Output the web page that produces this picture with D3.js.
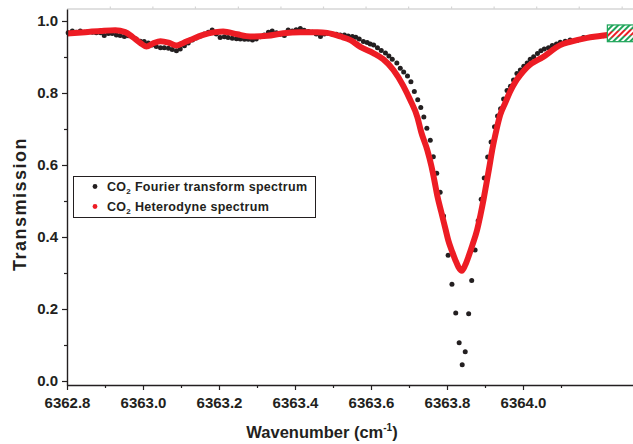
<!DOCTYPE html>
<html>
<head>
<meta charset="utf-8">
<script src="https://cdn.jsdelivr.net/npm/d3@7"></script>
<style>
  body { margin: 0; background: #fff; }
  text { font-family: "Liberation Sans", Arial, sans-serif; font-weight: bold; fill: #231f20; }
</style>
</head>
<body>
<div id="chart"></div>
<script>
// FTS spectrum (black dots)
var ftsWavenumber = [6362.803, 6362.814, 6362.824, 6362.835, 6362.846, 6362.856, 6362.867, 6362.877, 6362.888, 6362.898,
    6362.909, 6362.919, 6362.930, 6362.940, 6362.951, 6362.961, 6362.972, 6362.982, 6362.993, 6363.003,
    6363.014, 6363.024, 6363.035, 6363.046, 6363.056, 6363.067, 6363.077, 6363.088, 6363.098, 6363.109,
    6363.119, 6363.130, 6363.140, 6363.151, 6363.161, 6363.172, 6363.182, 6363.193, 6363.203, 6363.214,
    6363.224, 6363.235, 6363.246, 6363.256, 6363.267, 6363.277, 6363.288, 6363.298, 6363.309, 6363.319,
    6363.330, 6363.340, 6363.351, 6363.361, 6363.372, 6363.382, 6363.393, 6363.403, 6363.414, 6363.424,
    6363.435, 6363.446, 6363.456, 6363.467, 6363.477, 6363.488, 6363.498, 6363.509, 6363.519, 6363.530,
    6363.540, 6363.551, 6363.560, 6363.569, 6363.580, 6363.590, 6363.598, 6363.607, 6363.617, 6363.627,
    6363.638, 6363.647, 6363.656, 6363.668, 6363.677, 6363.686, 6363.696, 6363.705, 6363.714, 6363.723,
    6363.731, 6363.739, 6363.747, 6363.756, 6363.764, 6363.773, 6363.782, 6363.791, 6363.803, 6363.813,
    6363.823, 6363.832, 6363.840, 6363.848, 6363.857, 6363.865, 6363.874, 6363.882, 6363.890, 6363.898,
    6363.907, 6363.916, 6363.925, 6363.933, 6363.941, 6363.949, 6363.958, 6363.967, 6363.975, 6363.984,
    6363.993, 6364.002, 6364.011, 6364.019, 6364.028, 6364.038, 6364.047, 6364.056, 6364.067, 6364.077,
    6364.088, 6364.098, 6364.111, 6364.124, 6364.142, 6364.159, 6364.172, 6364.186, 6364.198, 6364.212,
    6364.224, 6364.238, 6364.251, 6364.264, 6364.277, 6364.288];
var ftsTransmission = [0.967, 0.972, 0.969, 0.972, 0.969, 0.971, 0.969, 0.967, 0.967, 0.960,
    0.965, 0.965, 0.961, 0.960, 0.957, 0.959, 0.956, 0.950, 0.944, 0.943,
    0.939, 0.933, 0.929, 0.926, 0.926, 0.924, 0.921, 0.917, 0.922, 0.931,
    0.939, 0.947, 0.953, 0.958, 0.964, 0.969, 0.975, 0.964, 0.954, 0.956,
    0.954, 0.952, 0.951, 0.950, 0.949, 0.949, 0.947, 0.950, 0.956, 0.961,
    0.969, 0.972, 0.967, 0.963, 0.960, 0.975, 0.972, 0.976, 0.979, 0.974,
    0.971, 0.969, 0.964, 0.957, 0.964, 0.965, 0.964, 0.963, 0.961, 0.961,
    0.958, 0.957, 0.955, 0.950, 0.943, 0.940, 0.936, 0.933, 0.926, 0.918,
    0.911, 0.903, 0.894, 0.883, 0.869, 0.858, 0.847, 0.831, 0.804, 0.781,
    0.760, 0.733, 0.702, 0.669, 0.623, 0.577, 0.524, 0.458, 0.349, 0.269,
    0.189, 0.106, 0.045, 0.081, 0.187, 0.279, 0.364, 0.445, 0.505, 0.564,
    0.622, 0.664, 0.706, 0.736, 0.756, 0.783, 0.807, 0.819, 0.836, 0.854,
    0.864, 0.874, 0.883, 0.894, 0.901, 0.910, 0.917, 0.922, 0.926, 0.932,
    0.936, 0.941, 0.944, 0.947, 0.946, 0.954, 0.954, 0.956, 0.957, 0.959,
    0.961, 0.963, 0.964, 0.965, 0.967, 0.967];

// heterodyne spectrum (red trace)
var hetWavenumber = [6362.800, 6362.848, 6362.888, 6362.927, 6362.953, 6362.972, 6362.993, 6363.009, 6363.027, 6363.046,
    6363.067, 6363.088, 6363.106, 6363.124, 6363.156, 6363.190, 6363.211, 6363.248, 6363.282, 6363.327,
    6363.369, 6363.414, 6363.459, 6363.485, 6363.519, 6363.546, 6363.572, 6363.606, 6363.632, 6363.659,
    6363.685, 6363.703, 6363.722, 6363.732, 6363.748, 6363.759, 6363.767, 6363.774, 6363.785, 6363.796,
    6363.803, 6363.814, 6363.822, 6363.830, 6363.839, 6363.848, 6363.856, 6363.867, 6363.879, 6363.888,
    6363.896, 6363.903, 6363.911, 6363.919, 6363.930, 6363.940, 6363.953, 6363.967, 6363.980, 6363.993,
    6364.011, 6364.053, 6364.098, 6364.124, 6364.169, 6364.222, 6364.290];
var hetTransmission = [0.965, 0.969, 0.972, 0.974, 0.969, 0.956, 0.939, 0.929, 0.938, 0.944,
    0.940, 0.932, 0.939, 0.947, 0.961, 0.969, 0.971, 0.963, 0.957, 0.959,
    0.966, 0.969, 0.969, 0.967, 0.957, 0.947, 0.928, 0.911, 0.894, 0.864,
    0.820, 0.781, 0.733, 0.692, 0.642, 0.597, 0.556, 0.517, 0.469, 0.422,
    0.392, 0.358, 0.336, 0.317, 0.306, 0.322, 0.344, 0.378, 0.419, 0.461,
    0.503, 0.544, 0.592, 0.642, 0.697, 0.739, 0.772, 0.806, 0.831, 0.850,
    0.872, 0.900, 0.933, 0.942, 0.953, 0.961, 0.969];

var xMajorTicks = [6362.8, 6363.0, 6363.2, 6363.4, 6363.6, 6363.8, 6364.0];
var xMinorTicks = [6362.9, 6363.1, 6363.3, 6363.5, 6363.7, 6363.9, 6364.1];
var yMajorTicks = [0.0, 0.2, 0.4, 0.6, 0.8, 1.0];
var yMinorTicks = [0.1, 0.3, 0.5, 0.7, 0.9];
// unlabelled light grey ticks on the top frame
var topTicks = [6362.914, 6363.026, 6363.138, 6363.251, 6363.363, 6363.475, 6363.587, 6363.699,
    6363.812, 6363.924, 6364.036, 6364.148, 6364.261];
var legendNames = ["Fourier transform spectrum", "Heterodyne spectrum"];
var legendColors = ["#231f20", "#ed1c24"];
// hatched marker box in the upper right (wavenumber / transmission corners)
var boxWavenumber = [6364.222, 6364.30];
var boxTransmission = [0.9425, 0.989];

var width = 633, height = 444;

var svg = d3.select("#chart").append("svg")
    .attr("width", width)
    .attr("height", height);

var x = d3.scaleLinear()
    .domain([6362.8, 6364.29])
    .range([67, 633.2]);

var y = d3.scaleLinear()
    .domain([-0.0111, 1.0333])
    .range([385, 9]);

var fts = ftsWavenumber.map(function(w, i) { return { w: w, t: ftsTransmission[i] }; });
var het = hetWavenumber.map(function(w, i) { return { w: w, t: hetTransmission[i] }; });

// pattern for the hatched box
var defs = svg.append("defs");
var pat = defs.append("pattern")
    .attr("id", "hatch")
    .attr("patternUnits", "userSpaceOnUse")
    .attr("width", 4)
    .attr("height", 4)
    .attr("patternTransform", "rotate(45)");
pat.append("rect")
    .attr("x", 0).attr("y", 0)
    .attr("width", 2).attr("height", 4)
    .attr("fill", "#fff");

// top grey frame
svg.append("line")
    .attr("x1", x.range()[0]).attr("x2", width)
    .attr("y1", y.range()[1]).attr("y2", y.range()[1])
    .attr("stroke", "#d6d6d6")
    .attr("stroke-width", 1.5);
svg.append("g")
    .selectAll("line")
    .data(topTicks)
    .enter().append("line")
    .attr("x1", function(d) { return x(d); })
    .attr("x2", function(d) { return x(d); })
    .attr("y1", y.range()[1])
    .attr("y2", y.range()[1] - 2.5)
    .attr("stroke", "#d6d6d6")
    .attr("stroke-width", 1.2);

// black dots
svg.append("g")
    .selectAll("circle")
    .data(fts)
    .enter().append("circle")
    .attr("cx", function(d) { return x(d.w); })
    .attr("cy", function(d) { return y(d.t); })
    .attr("r", 2.5)
    .attr("fill", "#231f20");

// green box underlay
var bx = x(boxWavenumber[0]), bw = x(boxWavenumber[1]) - x(boxWavenumber[0]);
var by = y(boxTransmission[1]), bh = y(boxTransmission[0]) - y(boxTransmission[1]);
svg.append("rect")
    .attr("x", bx).attr("y", by)
    .attr("width", bw).attr("height", bh)
    .attr("fill", "#1fa55a");

// red heterodyne trace
var line = d3.line()
    .x(function(d) { return x(d.w); })
    .y(function(d) { return y(d.t); })
    .curve(d3.curveMonotoneX);

svg.append("path")
    .datum(het)
    .attr("d", line)
    .attr("fill", "none")
    .attr("stroke", "#ed1c24")
    .attr("stroke-width", 6)
    .attr("stroke-linejoin", "round");

// hatch + border on top
svg.append("rect")
    .attr("x", bx).attr("y", by)
    .attr("width", bw).attr("height", bh)
    .attr("fill", "url(#hatch)")
    .attr("stroke", "#1fa55a")
    .attr("stroke-width", 1.2);

// axes
var yAxis = d3.axisLeft(y)
    .tickValues(yMajorTicks)
    .tickFormat(d3.format(".1f"))
    .tickSize(5)
    .tickSizeOuter(0)
    .tickPadding(4);
var yMinor = d3.axisLeft(y)
    .tickValues(yMinorTicks)
    .tickFormat("")
    .tickSize(3)
    .tickSizeOuter(0);

var xAxis = d3.axisBottom(x)
    .tickValues(xMajorTicks)
    .tickFormat(d3.format(".1f"))
    .tickSize(5)
    .tickSizeOuter(0)
    .tickPadding(7);
var xMinor = d3.axisBottom(x)
    .tickValues(xMinorTicks)
    .tickFormat("")
    .tickSize(3)
    .tickSizeOuter(0);

var gy = svg.append("g")
    .attr("transform", "translate(" + x.range()[0] + ",0)")
    .call(yAxis);
svg.append("g")
    .attr("transform", "translate(" + x.range()[0] + ",0)")
    .call(yMinor)
    .select(".domain").remove();

var gx = svg.append("g")
    .attr("transform", "translate(0," + y.range()[0] + ")")
    .call(xAxis);
svg.append("g")
    .attr("transform", "translate(0," + y.range()[0] + ")")
    .call(xMinor)
    .select(".domain").remove();

svg.selectAll(".domain").attr("stroke", "#231f20").attr("stroke-width", 1.4);
svg.selectAll(".tick line").attr("stroke", "#231f20").attr("stroke-width", 1.2);
svg.selectAll(".tick text")
    .style("font-family", "'Liberation Sans', Arial, sans-serif")
    .style("font-weight", "bold")
    .style("font-size", "15px")
    .attr("fill", "#231f20");

// axis titles
svg.append("text")
    .attr("transform", "translate(26,204) rotate(-90)")
    .attr("text-anchor", "middle")
    .style("font-size", "18px")
    .style("letter-spacing", "1.5px")
    .text("Transmission");

var xt = svg.append("text")
    .attr("x", 322)
    .attr("y", 438)
    .attr("text-anchor", "middle")
    .style("font-size", "16.5px");
xt.append("tspan").text("Wavenumber (cm");
xt.append("tspan").attr("dy", -7).style("font-size", "10px").text("-1");
xt.append("tspan").attr("dy", 7).text(")");

// legend
var legend = svg.append("g");
legend.append("rect")
    .attr("x", 73.5).attr("y", 176.5)
    .attr("width", 242).attr("height", 41)
    .attr("fill", "#fff")
    .attr("stroke", "#231f20")
    .attr("stroke-width", 1);

var item = legend.selectAll(".item")
    .data(legendNames)
    .enter().append("g")
    .attr("class", "item")
    .attr("transform", function(d, i) { return "translate(0," + (186.5 + i * 20) + ")"; });

item.append("circle")
    .attr("cx", 95)
    .attr("cy", 0)
    .attr("r", 2.4)
    .attr("fill", function(d, i) { return legendColors[i]; });

var lt = item.append("text")
    .attr("x", 107)
    .attr("y", 4.5)
    .style("font-size", "12.5px")
    .style("letter-spacing", "0.3px");
lt.append("tspan").text("CO");
lt.append("tspan").attr("dy", 3).style("font-size", "8px").text("2");
lt.append("tspan").attr("dy", -3).text(" ");
lt.append("tspan").text(function(d) { return d; });
</script>
</body>
</html>
